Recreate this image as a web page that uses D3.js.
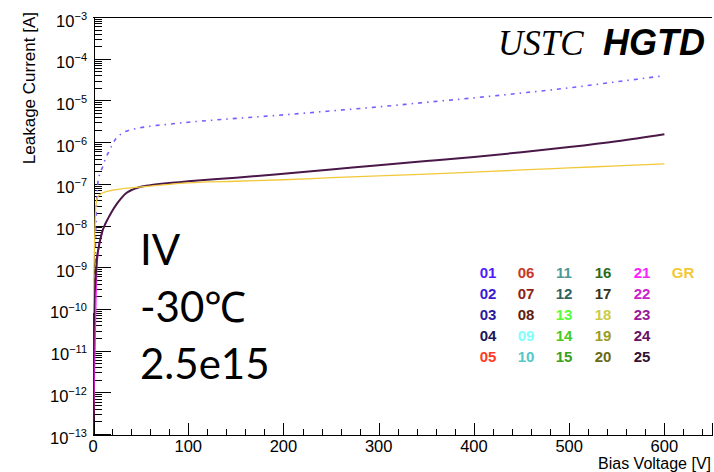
<!DOCTYPE html>
<html>
<head>
<script src="https://d3js.org/d3.v7.min.js"></script>
<style>
  body { margin: 0; background: #fff; }
  text { font-family: "Liberation Sans", Arial, sans-serif; }
</style>
</head>
<body>
<svg id="chart" width="714" height="472"></svg>
<script>
// ---- data ----
var padLabels = ["01","02","03","04","05","06","07","08","09","10","11","12","13",
                 "14","15","16","17","18","19","20","21","22","23","24","25","GR"];
var padColors = ["#4f1cff","#3b1ad6","#2c1a9c","#1c1460","#ff3a24","#c8382a","#8c2416","#5e1d10",
                 "#80ffff","#55c8c8","#4a9a9a","#2c6262","#55ff33","#44cc22","#38a020","#2e6a18",
                 "#34351a","#cccc44","#9c9c22","#6a6a14","#ff22ff","#cc22cc","#991a99","#661166",
                 "#331133","#f2c83a"];

// pad 01 (dash-dot)
var vPad01 = [0,1,2,3,4,5,7,10,13,16,20,24,30,37,45,60,80,100,150,200,250,300,350,400,450,500,550,600];
var iPad01 = [1e-10,4e-10,1e-9,8e-9,4e-8,1e-7,1.7e-7,2.5e-7,4e-7,5.5e-7,8.5e-7,1.2e-6,1.6e-6,1.9e-6,
              2.1e-6,2.4e-6,2.7e-6,3e-6,3.7e-6,4.5e-6,5.6e-6,7e-6,9e-6,1.15e-5,1.5e-5,2e-5,2.8e-5,3.9e-5];
// pad 05 (only the start is visible)
var vPad05 = [0,1,2];
var iPad05 = [1e-13,2e-12,4e-11];
// pad 21 (only the start is visible)
var vPad21 = [0,1,2,3,4,5,6,8,10];
var iPad21 = [1e-13,1e-12,1.2e-11,1.6e-10,1e-9,2e-9,3e-9,5e-9,7.5e-9];
// pad 25
var vPad25 = [0,0.5,1,2,3,4,6,8,10,13,16,20,25,30,35,40,45,50,60,80,100,150,200,250,300,350,400,450,500,550,600];
var iPad25 = [1e-13,1e-11,1e-10,3e-10,7e-10,1.5e-9,3e-9,5e-9,7.5e-9,1.1e-8,1.5e-8,2.2e-8,3.3e-8,4.6e-8,6e-8,
              7e-8,7.8e-8,8.5e-8,9.3e-8,1.05e-7,1.15e-7,1.4e-7,1.75e-7,2.2e-7,2.8e-7,3.5e-7,4.4e-7,
              5.7e-7,7.6e-7,1.05e-6,1.55e-6];
// guard ring
var vGR = [0,1,2,3,4,5,8,12,20,30,40,60,80,100,150,200,250,300,350,400,450,500,550,600];
var iGR = [8e-11,1e-9,8e-9,3e-8,4.3e-8,4.8e-8,5.7e-8,6.3e-8,7e-8,7.6e-8,8e-8,8.8e-8,9.7e-8,1.05e-7,
           1.15e-7,1.25e-7,1.4e-7,1.55e-7,1.7e-7,1.9e-7,2.15e-7,2.4e-7,2.7e-7,3e-7];

var xTicks = [0,100,200,300,400,500,600];
var yExponents = [-3,-4,-5,-6,-7,-8,-9,-10,-11,-12,-13];
var infoLines = ["IV", "-30\u2103", "2.5e15"];

// ---- setup ----
var svg = d3.select("#chart");
var frameL = 93, frameR = 712, frameT = 17, frameB = 434;

var x = d3.scaleLinear().domain([0, 650]).range([frameL, frameR]);
var y = d3.scaleLog().domain([1e-13, 1e-3]).range([frameB, frameT]);

svg.append("defs").append("clipPath").attr("id", "clip")
  .append("rect").attr("x", frameL).attr("y", frameT)
  .attr("width", frameR - frameL).attr("height", frameB - frameT);

// frame top line
svg.append("line").attr("x1", frameL).attr("x2", frameR)
  .attr("y1", frameT + 0.5).attr("y2", frameT + 0.5)
  .attr("stroke", "#000");

// y axis
var yMajor = yExponents.map(function(e){ return Math.pow(10, e); });
var yMinor = [];
yExponents.forEach(function(e){
  if (e >= -3) return;
  for (var k = 2; k <= 9; k++) yMinor.push(k * Math.pow(10, e));
});

var gy = svg.append("g").attr("transform", "translate(" + (frameL + 0.5) + ",0)");
gy.call(d3.axisLeft(y).tickValues(yMajor).tickSize(-17).tickFormat(""));
gy.append("g").call(d3.axisLeft(y).tickValues(yMinor).tickSize(-8).tickFormat(""))
  .select(".domain").remove();
gy.selectAll("path, line").attr("stroke", "#000").attr("shape-rendering", "crispEdges");

yExponents.forEach(function(e){
  var t = svg.append("text")
    .attr("x", 87).attr("y", y(Math.pow(10, e)) + 9.5)
    .attr("text-anchor", "end")
    .style("font-size", "16.5px").attr("fill", "#000");
  t.append("tspan").text("10");
  t.append("tspan").attr("dy", -7).style("font-size", "11px").text("\u2212" + (-e));
});

svg.append("text")
  .attr("transform", "translate(35,12) rotate(-90)")
  .attr("text-anchor", "end")
  .style("font-size", "17px")
  .text("Leakage Current [A]");

// x axis
var xMinor = d3.range(20, 650, 20).filter(function(v){ return v % 100 !== 0; });
var gx = svg.append("g").attr("transform", "translate(0," + (frameB + 0.5) + ")");
gx.call(d3.axisBottom(x).tickValues(xTicks).tickSize(-12).tickFormat(""));
gx.append("g").call(d3.axisBottom(x).tickValues(xMinor).tickSize(-6).tickFormat(""))
  .select(".domain").remove();
gx.selectAll("path, line").attr("stroke", "#000").attr("shape-rendering", "crispEdges");

svg.selectAll(".xlab").data(xTicks).enter().append("text")
  .attr("class", "xlab")
  .attr("x", function(d){ return x(d); })
  .attr("y", 452)
  .attr("text-anchor", "middle")
  .style("font-size", "16.5px")
  .text(function(d){ return d; });

svg.append("text")
  .attr("x", 711).attr("y", 469)
  .attr("text-anchor", "end")
  .style("font-size", "16px")
  .text("Bias Voltage [V]");

// curves
var line = d3.line()
  .x(function(d){ return x(d[0]); })
  .y(function(d){ return y(d[1]); })
  .curve(d3.curveMonotoneX);

function pts(v, i) { return v.map(function(d, k){ return [d, i[k]]; }); }

var plot = svg.append("g").attr("clip-path", "url(#clip)");

plot.append("path").attr("d", line(pts(vPad01, iPad01)))
  .attr("fill", "none").attr("stroke", "#7a5cff").attr("stroke-width", 1.6)
  .attr("stroke-dasharray", "4,5,1.5,5");

var solid = [
  [vPad05, iPad05, padColors[4], 1.6],
  [vPad21, iPad21, padColors[20], 1.6],
  [vPad25, iPad25, "#4a1848", 2],
  [vGR, iGR, padColors[25], 1.3]
];
solid.forEach(function(s){
  plot.append("path").attr("d", line(pts(s[0], s[1])))
    .attr("fill", "none").attr("stroke", s[2]).attr("stroke-width", s[3]);
});

// legend grid
var colX = [488, 526, 564, 603, 642, 683];
var rowY = [272, 293, 314, 335, 356];
svg.selectAll(".leg").data(padLabels).enter().append("text")
  .attr("class", "leg")
  .attr("x", function(d, i){ return colX[Math.floor(i / 5)]; })
  .attr("y", function(d, i){ return rowY[i % 5] + 5.5; })
  .attr("text-anchor", "middle")
  .style("font-size", "15px").style("font-weight", "bold")
  .attr("fill", function(d, i){ return padColors[i]; })
  .text(function(d){ return d; });

// header
svg.append("text").attr("x", 498).attr("y", 55)
  .style("font-family", "'Liberation Serif', 'Times New Roman', serif")
  .style("font-style", "italic").style("font-size", "35px")
  .text("USTC");
svg.append("text").attr("x", 705).attr("y", 55)
  .attr("text-anchor", "end")
  .style("font-style", "italic").style("font-weight", "bold").style("font-size", "36px")
  .text("HGTD");

// info text
svg.selectAll(".info").data(infoLines).enter().append("text")
  .attr("class", "info")
  .attr("x", 140)
  .attr("y", function(d, i){ return 265 + i * 57; })
  .style("font-family", "Lato, 'Open Sans', sans-serif")
  .style("font-size", "42px")
  .text(function(d){ return d; });
</script>
</body>
</html>
